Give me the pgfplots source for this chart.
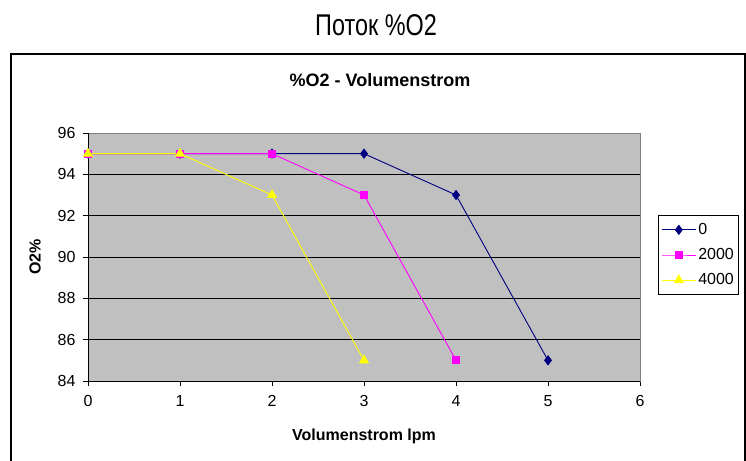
\documentclass[border=0pt]{standalone}
\usepackage{pgfplots}
\pgfplotsset{compat=1.18}
\usepackage{graphicx}
\usepackage{fontspec}
\setmainfont{Liberation Sans}
\definecolor{plotgray}{HTML}{C0C0C0}
\definecolor{bordergray}{HTML}{808080}
\definecolor{navyc}{HTML}{000080}
\definecolor{magc}{HTML}{FF00FF}
\definecolor{yelc}{HTML}{FFFF00}
\begin{document}
\begin{tikzpicture}
\path[use as bounding box] (0pt,0pt) rectangle (746pt,460pt);
\fill[white] (0pt,0pt) rectangle (746pt,460pt);
\draw[black, line width=1.2pt] (11pt,-5pt) -- (11pt,406pt) -- (745pt,406pt) -- (745pt,-5pt);
\node at (376pt,435pt) {\scalebox{0.78}[1]{\fontsize{30}{30}\selectfont Поток \%O2}};
\node at (380pt,380pt) {\fontsize{18}{18}\selectfont\bfseries \%O2 - Volumenstrom};
\begin{axis}[
  at={(88pt,79pt)}, anchor=south west,
  scale only axis, width=552pt, height=248pt,
  xmin=0, xmax=6, ymin=84, ymax=96,
  xtick={0,1,2,3,4,5,6}, ytick={84,86,88,90,92,94,96},
  xtick pos=left, ytick pos=left,
  tick align=outside, major tick length=5pt,
  tick style={black, line width=0.8pt},
  ymajorgrids, grid style={black, line width=0.8pt},
  axis background/.style={fill=plotgray},
  axis line style={bordergray, line width=0.8pt},
  /pgf/number format/assume math mode=true,
  ticklabel style={font=\fontsize{16}{16}\selectfont},
  xticklabel style={yshift=-6pt},
  yticklabel style={xshift=-4pt},
  xlabel={Volumenstrom lpm},
  ylabel={O2\%},
  xlabel style={font=\fontsize{16}{16}\selectfont\bfseries, at={(axis description cs:0.5,-0.222)}, anchor=center},
  ylabel style={font=\fontsize{16}{16}\selectfont\bfseries, at={(axis description cs:-0.096,0.5)}, anchor=center},
  legend style={at={(axis description cs:1.0326,0.669)}, anchor=north west,
    draw=black, line width=0.8pt, font=\fontsize{16}{16}\selectfont,
    row sep=8.5pt, inner xsep=3pt, inner ysep=6pt, fill=white},
  legend cell align=left,
  legend image code/.code={\draw[mark repeat=2,mark phase=2,#1] plot coordinates {(0pt,0pt)(17pt,0pt)(34pt,0pt)};},
  clip=false,
]
\addplot[navyc, line width=0.9pt, mark=diamond*, mark size=4.5pt, mark options={fill=navyc, solid}] coordinates {(0,95) (1,95) (2,95) (3,95) (4,93) (5,85)};
\addlegendentry{0}
\addplot[magc, line width=0.9pt, mark=square*, mark size=3.5pt, mark options={fill=magc, solid}] coordinates {(0,95) (1,95) (2,95) (3,93) (4,85)};
\addlegendentry{2000}
\addplot[yelc, line width=0.9pt, mark=triangle*, mark size=5pt, mark options={fill=yelc, solid}] coordinates {(0,95) (1,95) (2,93) (3,85)};
\addlegendentry{4000}
\draw[black, line width=0.8pt] (rel axis cs:0,1) -- (rel axis cs:0,0) -- (rel axis cs:1,0);
\end{axis}
\end{tikzpicture}
\end{document}
